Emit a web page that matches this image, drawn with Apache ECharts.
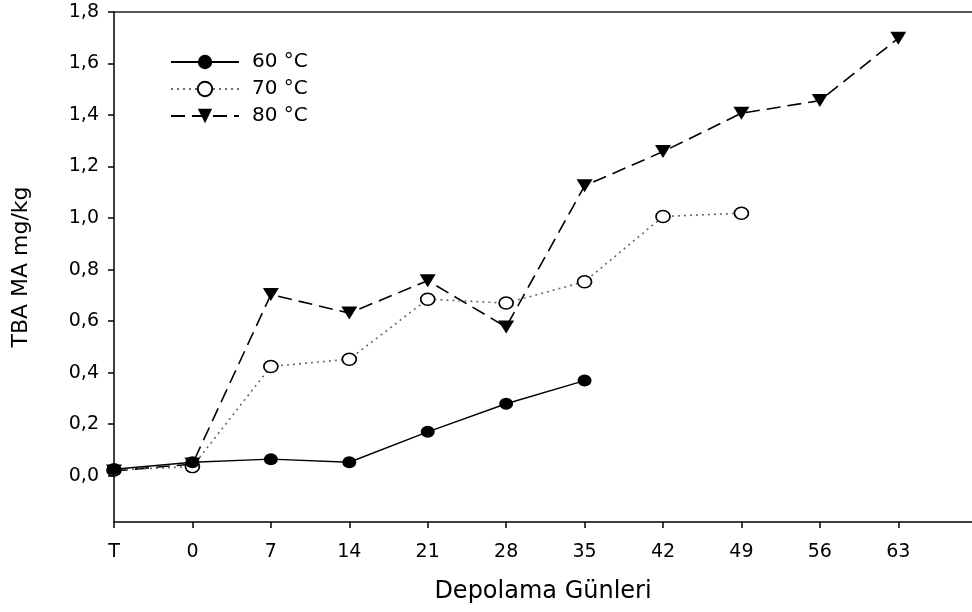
<!DOCTYPE html>
<html>
<head>
<meta charset="utf-8">
<script src="https://cdn.jsdelivr.net/npm/echarts@6/dist/echarts.min.js"></script>
<style>html,body{margin:0;padding:0;background:#fff}#c{width:972px;height:612px}</style>
</head>
<body>
<div id="c"></div>
<script>
const xLabels = ['T', '0', '7', '14', '21', '28', '35', '42', '49', '56', '63'];
const s60 = [0.025, 0.052, 0.064, 0.052, 0.170, 0.279, 0.369];
const s70 = [0.022, 0.035, 0.424, 0.452, 0.685, 0.670, 0.753, 1.006, 1.019];
const s80 = [0.018, 0.045, 0.703, 0.631, 0.757, 0.577, 1.125, 1.258, 1.407, 1.456, 1.698];
const yTicks = [0, 0.2, 0.4, 0.6, 0.8, 1.0, 1.2, 1.4, 1.6, 1.8];
const names = ['60 °C', '70 °C', '80 °C'];

const pairs = arr => arr.map((v, i) => [i, v]);
const xTicks = xLabels.map((_, i) => i);
const FONT = 'DejaVu Sans';

const chart = echarts.init(document.getElementById('c'), null, {renderer: 'canvas'});
chart.setOption({
  animation: false,
  backgroundColor: '#fff',
  textStyle: {fontFamily: FONT, color: '#000'},
  grid: {left: 114, top: 12, right: 0, bottom: 90, containLabel: false},
  legend: {
    orient: 'vertical', left: 165, top: 47,
    itemWidth: 68, itemHeight: 18, itemGap: 7,
    data: names,
    textStyle: {fontFamily: FONT, fontSize: 20, color: '#000', padding: [0, 0, 0, 8]}
  },
  xAxis: [{
    type: 'value', min: 0, max: 10.94,
    name: 'Depolama Günleri', nameLocation: 'middle', nameGap: 58,
    nameTextStyle: {fontFamily: FONT, fontSize: 24, color: '#000'},
    axisLine: {show: true, onZero: false, lineStyle: {color: '#000', width: 1.5}},
    axisTick: {show: true, length: 6, customValues: xTicks, lineStyle: {color: '#000', width: 1.5}},
    axisLabel: {fontFamily: FONT, fontSize: 19, color: '#000', margin: 21, customValues: xTicks,
      formatter: v => (xLabels[Math.round(v)] !== undefined ? xLabels[Math.round(v)] : '')},
    splitLine: {show: false}
  }, {
    type: 'value', position: 'top', min: 0, max: 10.94,
    axisLine: {show: true, onZero: false, lineStyle: {color: '#222', width: 1.5}},
    axisTick: {show: false}, axisLabel: {show: false}, splitLine: {show: false}
  }],
  yAxis: {
    type: 'value', min: -0.18, max: 1.8,
    name: 'TBA MA mg/kg', nameLocation: 'middle', nameGap: 82, nameRotate: 90,
    nameTextStyle: {fontFamily: FONT, fontSize: 22, color: '#000'},
    axisLine: {show: true, onZero: false, lineStyle: {color: '#000', width: 1.5}},
    axisTick: {show: true, length: 6, customValues: yTicks, lineStyle: {color: '#000', width: 1.5}},
    axisLabel: {fontFamily: FONT, fontSize: 19, color: '#000', margin: 15, customValues: yTicks,
      formatter: v => v.toFixed(1).replace('.', ',')},
    splitLine: {show: false}
  },
  series: [{
    name: names[0], type: 'line', data: pairs(s60),
    symbol: 'circle', symbolSize: [14, 12],
    lineStyle: {color: '#000', width: 1.4, type: 'solid'},
    itemStyle: {color: '#000'}, z: 4
  }, {
    name: names[1], type: 'line', data: pairs(s70),
    symbol: 'circle', symbolSize: [14, 12],
    lineStyle: {color: '#8a5a5a', width: 1.6, type: [2, 4]},
    itemStyle: {color: '#fff', borderColor: '#000', borderWidth: 1.6}, z: 3
  }, {
    name: names[2], type: 'line', data: pairs(s80),
    symbol: 'triangle', symbolRotate: 180, symbolSize: [16, 13],
    lineStyle: {color: '#000', width: 1.6, type: [14, 7]},
    itemStyle: {color: '#000'}, z: 2
  }]
});
</script>
</body>
</html>
